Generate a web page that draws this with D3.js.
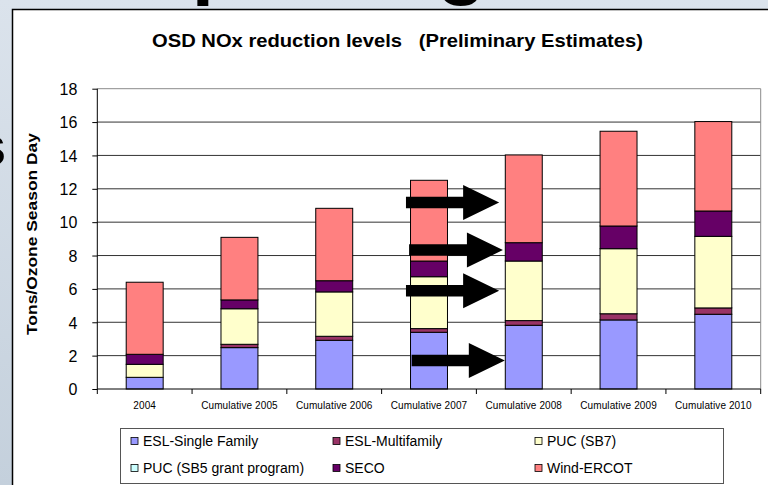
<!DOCTYPE html>
<html><head><meta charset="utf-8">
<script src="https://cdn.jsdelivr.net/npm/d3@7"></script>
<style>body{margin:0;background:#fff;} svg{display:block;font-family:Arial,"Liberation Sans",sans-serif;}</style>
</head><body>
<svg id="c" width="768" height="485"></svg>
<script>
// ---- data ----
const categories = ["2004","Cumulative 2005","Cumulative 2006","Cumulative 2007","Cumulative 2008","Cumulative 2009","Cumulative 2010"];
const seriesNames = ["ESL-Single Family","ESL-Multifamily","PUC (SB7)","PUC (SB5 grant program)","SECO","Wind-ERCOT"];
const eslSingle = [0.70, 2.48, 2.92, 3.40, 3.82, 4.14, 4.48];
const eslMulti  = [0.00, 0.20, 0.24, 0.22, 0.28, 0.37, 0.38];
const pucSB7    = [0.78, 2.13, 2.66, 3.11, 3.57, 3.90, 4.29];
const pucSB5    = [0.00, 0.00, 0.00, 0.00, 0.00, 0.00, 0.00];
const seco      = [0.60, 0.53, 0.67, 0.94, 1.10, 1.36, 1.52];
const windErcot = [4.32, 3.75, 4.34, 4.84, 5.26, 5.68, 5.36];
const yTicks = [0,2,4,6,8,10,12,14,16,18];
// annotation arrows: value level and from/to category position (index units)
const arrowLevel = [11.18, 8.33, 5.89, 1.71];
const arrowFrom  = [2.757, 2.790, 2.757, 2.817];
const arrowTo    = [3.740, 3.780, 3.740, 3.800];

const colors = ["#9999ff","#993366","#ffffcc","#ccffff","#660066","#ff8080"];
const values = [eslSingle, eslMulti, pucSB7, pucSB5, seco, windErcot];
const table = categories.map((c,i)=>{const o={cat:c}; seriesNames.forEach((s,k)=>o[s]=values[k][i]); return o;});

const svg = d3.select("#c");
// slide background
const defs = svg.append("defs");
const g1 = defs.append("linearGradient").attr("id","bg").attr("x1",0).attr("y1",0).attr("x2",0).attr("y2",1);
g1.append("stop").attr("offset","0%").attr("stop-color","#dbe3ec");
g1.append("stop").attr("offset","100%").attr("stop-color","#c4d0dc");
svg.append("rect").attr("width",768).attr("height",485).attr("fill","url(#bg)");
// partial slide text behind frame
svg.append("text").attr("x",-16).attr("y",-11.5).attr("font-size",80).attr("font-weight","bold")
  .attr("letter-spacing",10).attr("fill","#000").text("Comparing");
svg.append("text").attr("x",-25).attr("y",165).attr("font-size",56).attr("font-weight","bold")
  .attr("fill","#000").text("s");
// chart frame
svg.append("rect").attr("x",12.5).attr("y",9.5).attr("width",800).attr("height",500)
  .attr("fill","#fff").attr("stroke","#000").attr("stroke-width",1.5);

const L=97.3, R=760.7, T=88.7, B=389;
const x = d3.scaleBand().domain(categories).range([L,R]).paddingInner(0.61).paddingOuter(0.305);
const y = d3.scaleLinear().domain([0,18]).range([B,T]);
const xi = d3.scaleLinear().domain([0,1]).range([x(categories[0])+x.bandwidth()/2, x(categories[1])+x.bandwidth()/2]);

// title
svg.append("text").attr("x",397.5).attr("y",47).attr("text-anchor","middle")
  .attr("font-size",19).attr("font-weight","bold").attr("textLength",491).attr("lengthAdjust","spacingAndGlyphs")
  .attr("xml:space","preserve").style("white-space","pre")
  .text("OSD NOx reduction levels   (Preliminary Estimates)");

// gridlines
svg.append("g").selectAll("line").data(yTicks.filter(d=>d>0)).join("line")
  .attr("x1",L).attr("x2",R).attr("y1",d=>y(d)).attr("y2",d=>y(d))
  .attr("stroke",d=>d===18?"#8c8c8c":"#333").attr("stroke-width",1);
// right border
svg.append("line").attr("x1",R).attr("x2",R).attr("y1",T).attr("y2",B).attr("stroke","#8c8c8c");

// bars
const stack = d3.stack().keys(seriesNames)(table);
svg.append("g").selectAll("g").data(stack).join("g").attr("fill",(d,i)=>colors[i])
  .selectAll("rect").data(d=>d.filter(p=>p[1]-p[0]>0)).join("rect")
  .attr("x",d=>x(d.data.cat)).attr("width",x.bandwidth())
  .attr("y",d=>y(d[1])).attr("height",d=>y(d[0])-y(d[1]))
  .attr("stroke","#000").attr("stroke-width",1);

// y axis
const ya = svg.append("g").attr("transform",`translate(${L},0)`)
  .call(d3.axisLeft(y).tickValues(yTicks).tickSize(5).tickPadding(15));
ya.select(".domain").attr("stroke","#000").attr("d",`M0,${B}V${T}`);
ya.selectAll("text").attr("font-size",16).attr("font-family","Arial,'Liberation Sans',sans-serif").attr("fill","#000").attr("dy","0.36em");
// x axis
svg.append("line").attr("x1",L).attr("x2",R).attr("y1",B).attr("y2",B).attr("stroke","#000");
const bounds = d3.range(categories.length+1).map(i=>xi(i-0.5));
svg.append("g").selectAll("line").data(bounds).join("line")
  .attr("x1",d=>d).attr("x2",d=>d).attr("y1",B).attr("y2",B+5).attr("stroke","#000");
svg.append("g").selectAll("text").data(categories).join("text")
  .attr("x",d=>x(d)+x.bandwidth()/2).attr("y",409).attr("text-anchor","middle")
  .attr("font-size",10).attr("letter-spacing",0.1).attr("fill","#000").text(d=>d);

// y label
svg.append("text").attr("transform","translate(37,234) rotate(-90)").attr("text-anchor","middle")
  .attr("font-size",14.5).attr("font-weight","bold").attr("textLength",202).attr("lengthAdjust","spacingAndGlyphs")
  .text("Tons/Ozone Season Day");

// arrows
const ag = svg.append("g");
arrowLevel.forEach((lv,i)=>{
  const x0 = xi(arrowFrom[i]), x1 = xi(arrowTo[i]), yc = y(lv);
  const hs=5.8, hh=17.5, hl=36;
  const p = `M${x0},${yc-hs}L${x1-hl},${yc-hs}L${x1-hl},${yc-hh}L${x1},${yc}L${x1-hl},${yc+hh}L${x1-hl},${yc+hs}L${x0},${yc+hs}Z`;
  ag.append("path").attr("d",p).attr("fill","#000");
});

// legend
svg.append("rect").attr("x",120.5).attr("y",428.5).attr("width",603).attr("height",55)
  .attr("fill","#fff").attr("stroke","#555").attr("stroke-width",1);
const colX = [131,333,535], rowY=[441,468];
const lg = svg.append("g").selectAll("g").data(seriesNames).join("g")
  .attr("transform",(d,i)=>`translate(${colX[i%3]},${rowY[Math.floor(i/3)]})`);
lg.append("rect").attr("x",0).attr("y",-3.5).attr("width",7).attr("height",7)
  .attr("fill",(d,i)=>colors[i]).attr("stroke","#000").attr("stroke-width",0.8);
lg.append("text").attr("x",12).attr("y",5).attr("font-size",14).attr("fill","#000").text(d=>d);
</script>
</body></html>
